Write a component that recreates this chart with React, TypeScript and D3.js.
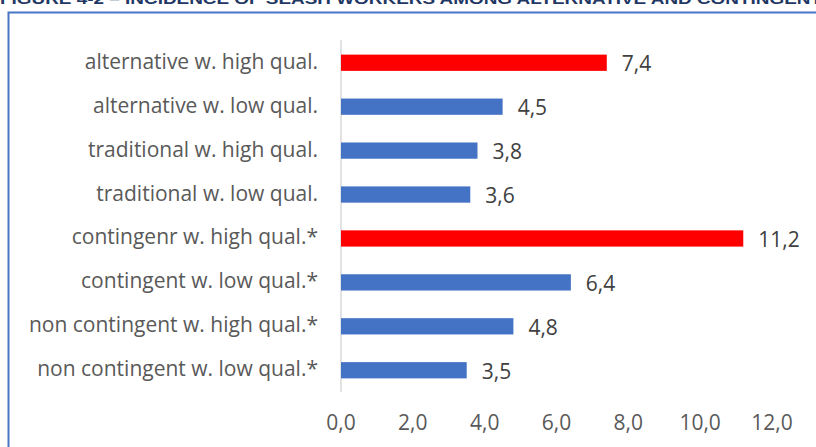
import * as d3 from "d3";

const categories = [
  "alternative w. high qual.",
  "alternative w. low qual.",
  "traditional w. high qual.",
  "traditional w. low qual.",
  "contingenr w. high qual.*",
  "contingent w. low qual.*",
  "non contingent w. high qual.*",
  "non contingent w. low qual.*",
];
const values = [7.4, 4.5, 3.8, 3.6, 11.2, 6.4, 4.8, 3.5];
const highlighted = [true, false, false, false, true, false, false, false];
const xTicks = [0, 2, 4, 6, 8, 10, 12];
const title = "FIGURE 4-2 – INCIDENCE OF SEASH WORKERS AMONG ALTERNATIVE AND CONTINGENT";

const W = 816;
const H = 447;
const FONT = "'Open Sans', sans-serif";
const FS = 21;

export default function App() {
  const x = d3.scaleLinear().domain([0, 12]).range([341, 772]);
  const y = d3.scaleBand().domain(categories).range([41, 392]).paddingInner(0.63).paddingOuter(0.31);
  const fmt = (v: number) => d3.format(".1f")(v).replace(".", ",");

  return (
    <div style={{ position: "absolute", left: 0, top: 0, width: W, height: H, overflow: "hidden", background: "#fff" }}>
      <svg width={W} height={H} style={{ display: "block" }}>
        <text x={0} y={3.5} fontFamily="'Liberation Sans', sans-serif" fontWeight="bold" fontSize={15} fill="#1f3864"
          textLength={822} lengthAdjust="spacingAndGlyphs">
          {title}
        </text>
        <rect x={8.5} y={12.5} width={W} height={H} fill="none" stroke="#4a76c6" strokeWidth={2} />
        <line x1={x(0)} x2={x(0)} y1={40} y2={392} stroke="#d9d9d9" strokeWidth={1.5} />
        {categories.map((c, i) => {
          const cy = (y(c) as number) + y.bandwidth() / 2;
          return (
            <g key={c}>
              <rect
                x={x(0)}
                y={y(c)}
                width={x(values[i]) - x(0)}
                height={y.bandwidth()}
                fill={highlighted[i] ? "#ff0000" : "#4472c4"}
              />
              <text x={318} y={cy + 6} textAnchor="end" fontFamily={FONT} fontSize={FS} fill="#595959">
                {c}
              </text>
              <text x={x(values[i]) + 15} y={cy + 8.5} fontFamily={FONT} fontSize={FS} fill="#404040">
                {fmt(values[i])}
              </text>
            </g>
          );
        })}
        {xTicks.map((t) => (
          <text key={t} x={x(t)} y={430} textAnchor="middle" fontFamily={FONT} fontSize={FS} fill="#595959">
            {fmt(t)}
          </text>
        ))}
      </svg>
    </div>
  );
}
